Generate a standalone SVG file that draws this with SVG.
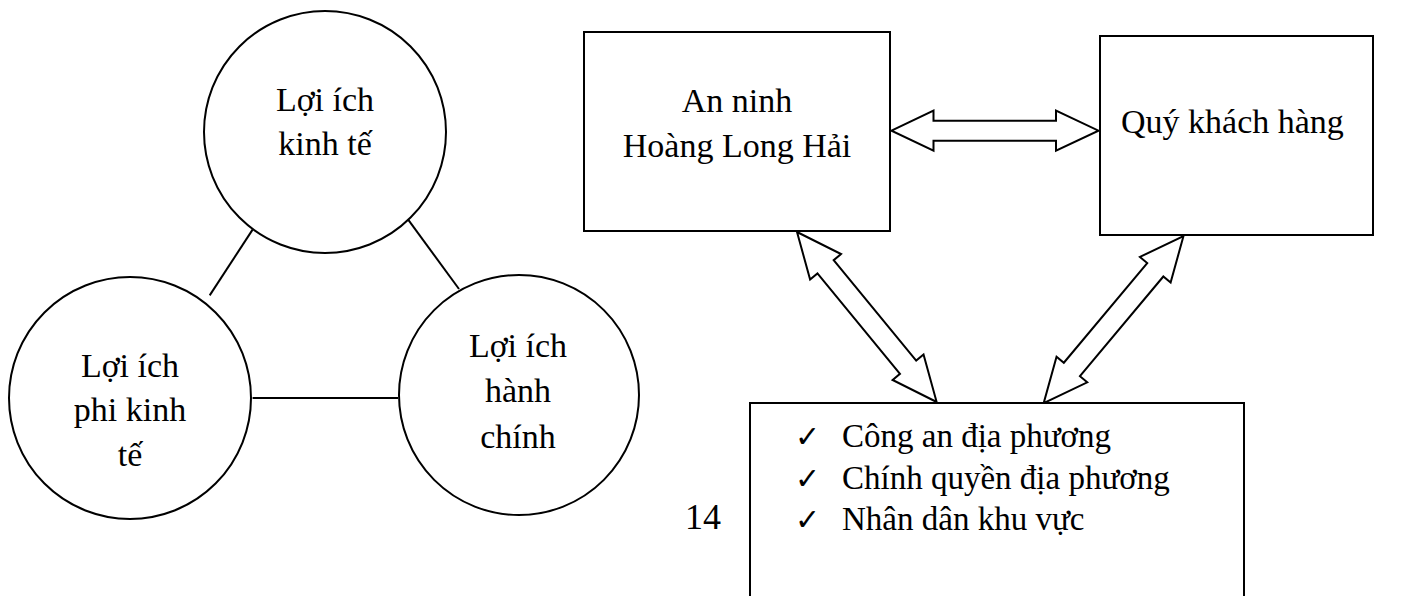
<svg xmlns="http://www.w3.org/2000/svg" width="1408" height="596" viewBox="0 0 1408 596">
<style>
.sh{fill:#fff;stroke:#000;stroke-width:2}
.ln{stroke:#000;stroke-width:2;fill:none}
.ar{fill:#fff;stroke:#000;stroke-width:2;stroke-linejoin:miter}
.t{font-family:"Liberation Serif","Times New Roman",serif;font-size:34px;fill:#000}
.c{text-anchor:middle}
.li{font-size:33px}
.ck{font-family:"DejaVu Sans","Noto Sans",sans-serif;font-size:30px;font-weight:bold;fill:#000}
</style>
<rect width="1408" height="596" fill="#fff"/>
<g id="connectors">
<line class="ln" x1="252.6" y1="229.6" x2="209.7" y2="295.4"/>
<line class="ln" x1="407.6" y1="218.9" x2="459" y2="289"/>
<line class="ln" x1="252.6" y1="398" x2="398" y2="398"/>
<polygon class="ar" points="891.5,130.7 933.5,110.7 933.5,120.7 1056,120.7 1056,110.7 1098.5,130.7 1056,150.7 1056,140.7 933.5,140.7 933.5,150.7"/>
<polygon class="ar" transform="translate(797,232) rotate(50.6)" points="0,0 45,-20 45,-10.5 175,-10.5 175,-20 220,0 175,20 175,10.5 45,10.5 45,20"/>
<polygon class="ar" transform="translate(1183.5,236) rotate(129.9)" points="0,0 44,-20 44,-10.5 174,-10.5 174,-20 218,0 174,20 174,10.5 44,10.5 44,20"/>
</g>
<g id="node-kinh-te">
<circle class="sh" cx="325" cy="132" r="121"/>
<text class="t c" x="325" y="111">Lợi ích</text>
<text class="t c" x="325" y="155">kinh tế</text>
</g>
<g id="node-phi-kinh-te">
<circle class="sh" cx="130" cy="398" r="121"/>
<text class="t c" x="130" y="377">Lợi ích</text>
<text class="t c" x="130" y="421">phi kinh</text>
<text class="t c" x="130" y="466">tế</text>
</g>
<g id="node-hanh-chinh">
<circle class="sh" cx="519" cy="395" r="120"/>
<text class="t c" x="518" y="357">Lợi ích</text>
<text class="t c" x="518" y="402">hành</text>
<text class="t c" x="518" y="448">chính</text>
</g>
<g id="node-an-ninh">
<rect class="sh" x="584" y="32" width="306" height="199"/>
<text class="t c" x="737" y="112">An ninh</text>
<text class="t c" x="737" y="157">Hoàng Long Hải</text>
</g>
<g id="node-khach-hang">
<rect class="sh" x="1100" y="36" width="273" height="199"/>
<text class="t" x="1121" y="133">Quý khách hàng</text>
</g>
<g id="node-dia-phuong">
<rect class="sh" x="750" y="403" width="494" height="220"/>
<text class="ck" x="795" y="447">✓</text>
<text class="t li" x="842" y="447">Công an địa phương</text>
<text class="ck" x="795" y="489">✓</text>
<text class="t li" x="842" y="489">Chính quyền địa phương</text>
<text class="ck" x="795" y="530">✓</text>
<text class="t li" x="842" y="530">Nhân dân khu vực</text>
</g>
<text id="page-number" class="t" x="685" y="529" style="font-size:36px">14</text>
</svg>
